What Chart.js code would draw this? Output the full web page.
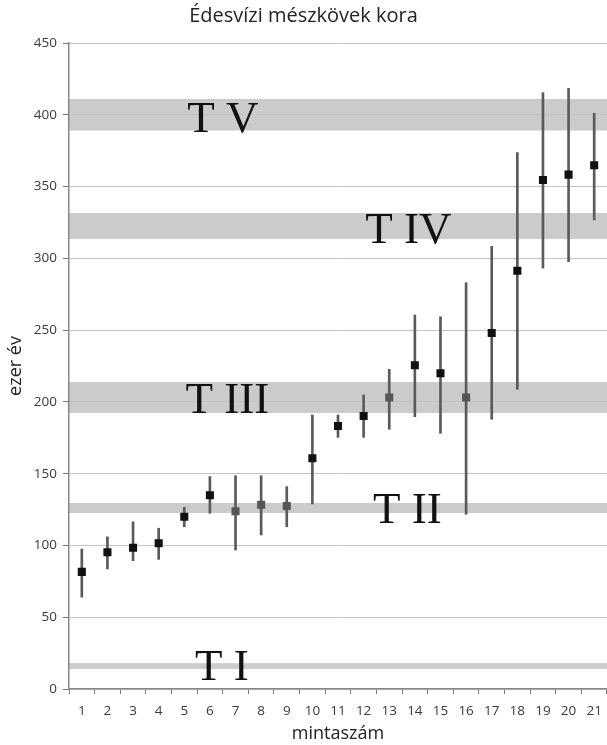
<!DOCTYPE html>
<html>
<head>
<meta charset="utf-8">
<title>Édesvízi mészkövek kora</title>
<script src="https://cdn.jsdelivr.net/npm/chart.js@4/dist/chart.umd.min.js"></script>
<style>
  html, body { margin: 0; padding: 0; background: #fff; overflow: hidden; }
  canvas { display: block; }
</style>
</head>
<body>
<canvas id="chart" width="607" height="745"></canvas>
<script>
// sample numbers (x axis)
const samples = ['1','2','3','4','5','6','7','8','9','10','11','12','13','14','15','16','17','18','19','20','21'];
// age in thousand years, with the lower / upper end of the error bar
const ages    = [81.6, 95.3, 98.4, 101.5, 120, 135, 123.8, 128.4, 127.5, 160.7, 183.2, 190.2, 203, 225.5, 219.9, 203, 248, 291.4, 354.6, 358.3, 364.9];
const errLow  = [64, 83.7, 89.4, 90.3, 113, 122.4, 96.8, 107.3, 113, 129, 175.3, 175.3, 180.9, 189.7, 178.1, 121.7, 187.9, 208.8, 293.2, 297.7, 326.8];
const errHigh = [97.5, 106, 116.5, 112, 126.6, 148, 148.6, 148.6, 141, 190.9, 190.9, 204.8, 222.7, 260.5, 259.3, 283, 308.3, 373.7, 415.4, 418.4, 401];
// samples drawn with a grey marker
const greySamples = ['7','8','9','13','16'];

// terrace levels
const terraces    = ['T I', 'T II', 'T III', 'T IV', 'T V'];
const terraceFrom = [14, 122.6, 192.3, 313.5, 389];
const terraceTo   = [18, 129.6, 213.8, 331.6, 411];
// where the terrace name sits (category index, value at baseline)
const terraceLabelAt   = [5.47, 12.71, 5.68, 12.75, 5.51];
const terraceLabelBase = [6.3, 115.4, 192, 311, 388];

const yTicks = { min: 0, max: 450, step: 50 };

// grey bands behind the grid
const bandsPlugin = {
    id: 'terraceBands',
    beforeDraw(chart) {
        const { ctx, chartArea, scales: { y } } = chart;
        ctx.save();
        ctx.fillStyle = '#cbcbcb';
        terraces.forEach((t, i) => {
            const top = y.getPixelForValue(terraceTo[i]);
            const bottom = y.getPixelForValue(terraceFrom[i]);
            ctx.fillRect(chartArea.left, top, chartArea.right - chartArea.left, bottom - top);
        });
        ctx.restore();
    },
    beforeDatasetsDraw(chart) {
        const { ctx, scales: { x, y } } = chart;
        ctx.save();
        ctx.fillStyle = '#111';
        ctx.font = '45px "Liberation Serif", "Times New Roman", serif';
        ctx.textAlign = 'center';
        ctx.textBaseline = 'alphabetic';
        terraces.forEach((t, i) => {
            ctx.fillText(t, x.getPixelForValue(terraceLabelAt[i]), y.getPixelForValue(terraceLabelBase[i]));
        });
        ctx.restore();
    }
};

const ctx = document.getElementById('chart').getContext('2d');
new Chart(ctx, {
    type: 'bar',
    data: {
        labels: samples,
        datasets: [
            {
                type: 'line',
                label: 'kor',
                data: ages,
                showLine: false,
                pointStyle: 'rect',
                pointRadius: 5.7,
                pointBorderWidth: 0,
                pointBackgroundColor: samples.map(s => greySamples.includes(s) ? '#555' : '#111'),
                order: 0
            },
            {
                type: 'bar',
                label: 'hiba',
                data: errLow.map((lo, i) => [lo, errHigh[i]]),
                backgroundColor: '#5a5a5a',
                barThickness: 2,
                order: 1
            }
        ]
    },
    options: {
        responsive: false,
        animation: false,
        layout: { padding: { left: 0, top: 0, bottom: 0, right: 0 }, autoPadding: false },
        plugins: {
            legend: { display: false },
            tooltip: { enabled: false },
            title: {
                display: true,
                text: 'Édesvízi mészkövek kora',
                color: '#222',
                font: { family: '"Open Sans", sans-serif', size: 20, weight: 'normal' },
                padding: { top: 4, bottom: 15 }
            }
        },
        scales: {
            x: {
                offset: true,
                grid: {
                    offset: true,
                    drawOnChartArea: false,
                    drawTicks: true,
                    tickLength: 5,
                    tickColor: '#777'
                },
                border: { color: '#888', width: 1.5 },
                ticks: {
                    color: '#3a3a3a',
                    padding: 9,
                    maxRotation: 0,
                    autoSkip: false,
                    font: { family: '"Open Sans", sans-serif', size: 13.5 }
                },
                title: {
                    display: true,
                    text: 'mintaszám',
                    color: '#222',
                    padding: { top: 0, bottom: 0 },
                    font: { family: '"Open Sans", sans-serif', size: 18 }
                },
                afterFit(scale) {
                    scale.height = 56;
                    scale.paddingLeft = 0;
                    scale.paddingRight = 0;
                }
            },
            y: {
                min: yTicks.min,
                max: yTicks.max,
                grid: {
                    color: '#c4c4c4',
                    lineWidth: 1,
                    tickLength: 6,
                    tickColor: '#777'
                },
                border: { color: '#888', width: 1.5 },
                ticks: {
                    stepSize: yTicks.step,
                    color: '#3a3a3a',
                    padding: 6,
                    font: { family: '"Open Sans", sans-serif', size: 13.5 }
                },
                title: {
                    display: true,
                    text: 'ezer év',
                    color: '#222',
                    padding: { top: 5, bottom: 0 },
                    font: { family: '"Open Sans", sans-serif', size: 18 }
                },
                afterFit(scale) { scale.width = 69; }
            }
        }
    },
    plugins: [bandsPlugin]
});
</script>
</body>
</html>
